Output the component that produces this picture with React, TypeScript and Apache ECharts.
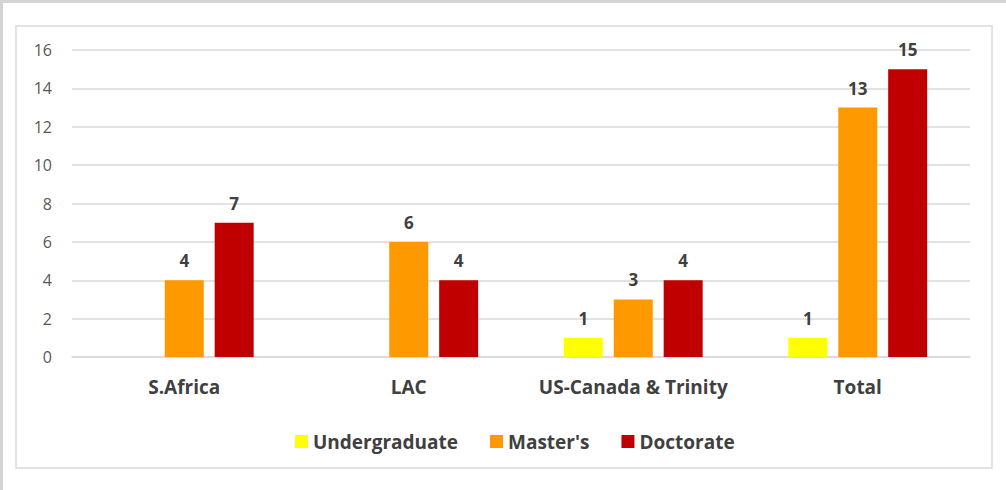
import React, { useEffect, useRef } from "react";
import * as echarts from "echarts";

const categories = ["S.Africa", "LAC", "US-Canada & Trinity", "Total"];
const undergraduate: (number | null)[] = [null, null, 1, 1];
const masters = [4, 6, 3, 13];
const doctorate = [7, 4, 4, 15];
const seriesNames = ["Undergraduate", "Master's", "Doctorate"];
const colors = ["#FFFF00", "#FF9900", "#C00000"];

const FONT = "'Open Sans', 'Liberation Sans', sans-serif";

export default function App() {
  const ref = useRef<HTMLDivElement>(null);
  useEffect(() => {
    if (!ref.current) return;
    const chart = echarts.init(ref.current, null, { renderer: "svg" });
    const label = {
      show: true,
      position: "top" as const,
      distance: 11,
      color: "#404040",
      fontWeight: "bold" as const,
      fontSize: 17,
      fontFamily: FONT,
    };
    const mk = (name: string, data: (number | null)[], color: string) => ({
      name,
      type: "bar" as const,
      data,
      barWidth: 39,
      barGap: "28%",
      itemStyle: { color },
      label,
    });
    chart.setOption({
      animation: false,
      backgroundColor: "#ffffff",
      textStyle: { fontFamily: FONT },
      graphic: [
        { type: "rect", shape: { x: 0, y: 0, width: 1006, height: 3 }, style: { fill: "#d4d4d4" }, z: 0 },
        { type: "rect", shape: { x: 0, y: 0, width: 3, height: 490 }, style: { fill: "#d4d4d4" }, z: 0 },
        {
          type: "rect",
          shape: { x: 16, y: 26, width: 976, height: 442 },
          style: { fill: "none", stroke: "#d9d9d9", lineWidth: 1.5 },
          z: 0,
        },
      ],
      grid: { left: 72, right: 36, top: 50, bottom: 133, containLabel: false },
      legend: {
        data: seriesNames,
        left: 290,
        top: 427,
        itemWidth: 13,
        itemHeight: 13,
        itemGap: 32,
        icon: "rect",
        textStyle: { color: "#404040", fontWeight: "bold", fontSize: 19, fontFamily: FONT },
      },
      xAxis: {
        type: "category",
        data: categories,
        axisLine: { show: true, lineStyle: { color: "#d9d9d9", width: 1.5 } },
        axisTick: { show: false },
        axisLabel: {
          interval: 0,
          color: "#404040",
          fontWeight: "bold",
          fontSize: 19,
          fontFamily: FONT,
          margin: 20,
        },
      },
      yAxis: {
        type: "value",
        min: 0,
        max: 16,
        interval: 2,
        axisLine: { show: false },
        axisTick: { show: false },
        axisLabel: { color: "#595959", fontSize: 16, fontFamily: FONT, margin: 20 },
        splitLine: { lineStyle: { color: "#d9d9d9", width: 1.5 } },
      },
      series: [
        mk(seriesNames[0], undergraduate, colors[0]),
        mk(seriesNames[1], masters, colors[1]),
        mk(seriesNames[2], doctorate, colors[2]),
      ],
    });
    return () => chart.dispose();
  }, []);
  return (
    <div
      ref={ref}
      style={{ position: "fixed", left: 0, top: 0, width: 1006, height: 490 }}
    />
  );
}
